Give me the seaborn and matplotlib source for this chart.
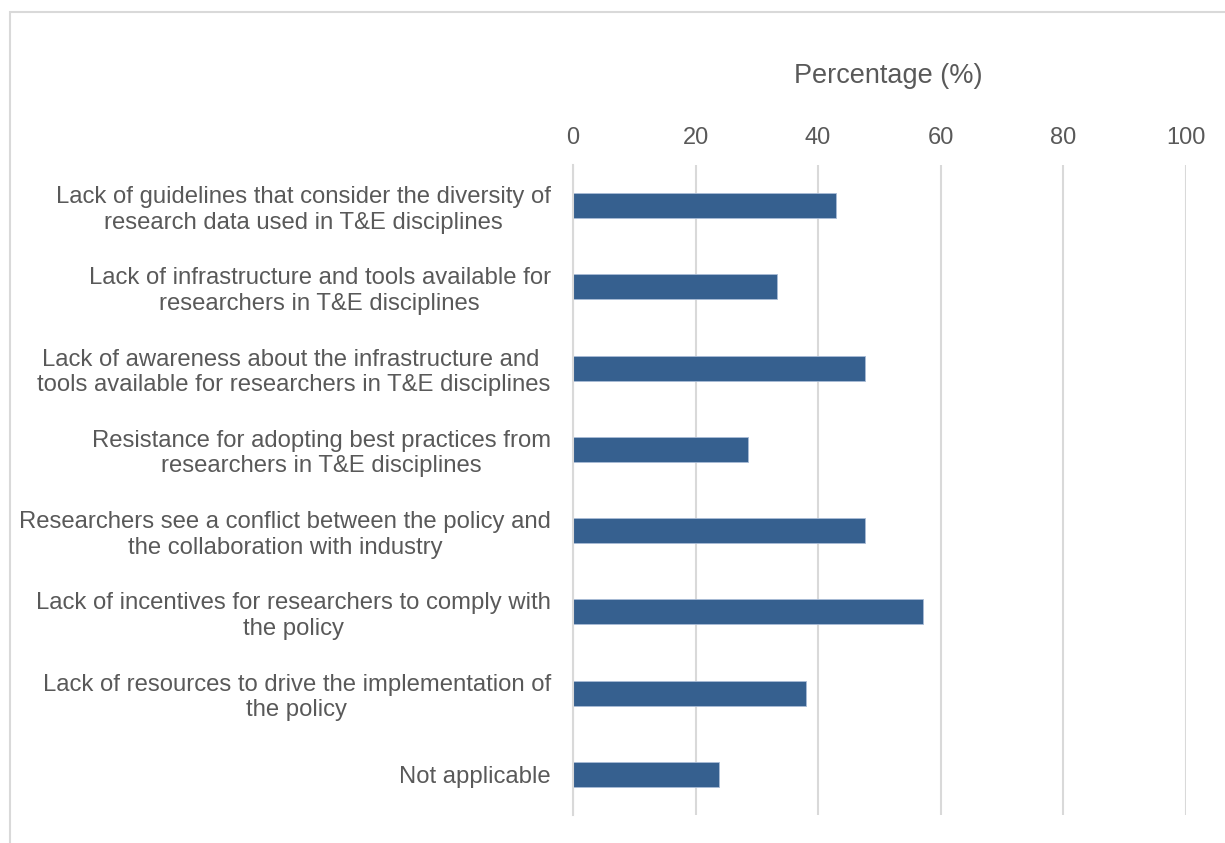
import matplotlib.pyplot as plt
import seaborn as sns
import pandas as pd
from matplotlib.patches import Rectangle

sns.set_theme(style="white")
plt.rcParams['font.family'] = ['Liberation Sans', 'DejaVu Sans']

# survey answers (share of 21 respondents)
barriers = [
    "Lack of guidelines that consider the diversity of\nresearch data used in T&E disciplines",
    "Lack of infrastructure and tools available for\nresearchers in T&E disciplines",
    "Lack of awareness about the infrastructure and \ntools available for researchers in T&E disciplines",
    "Resistance for adopting best practices from\nresearchers in T&E disciplines",
    "Researchers see a conflict between the policy and\nthe collaboration with industry",
    "Lack of incentives for researchers to comply with\nthe policy",
    "Lack of resources to drive the implementation of\nthe policy",
    "Not applicable",
]
percentages = [42.86, 33.33, 47.62, 28.57, 47.62, 57.14, 38.10, 23.81]
x_ticks = [0, 20, 40, 60, 80, 100]

df = pd.DataFrame({'barrier': barriers, 'pct': percentages})

text_col = '#595959'
grid_col = '#D9D9D9'

fig = plt.figure(figsize=(12.25, 8.43), dpi=100)
ax = fig.add_axes([573 / 1225, 28 / 843, 612.5 / 1225, 650 / 843])

sns.barplot(data=df, x='pct', y='barrier', orient='h', color='#36608F',
            width=0.31, saturation=1, edgecolor='#A9BCD6', linewidth=0.6, ax=ax)

ax.set_xlim(0, 100)
ax.set_ylim(7.5, -0.5)
ax.set_xticks(x_ticks)
ax.xaxis.tick_top()
ax.xaxis.set_label_position('top')
ax.set_xlabel('Percentage (%)', fontsize=19.5, color=text_col, labelpad=32)
ax.xaxis.label.set_x(0.514)
ax.set_ylabel('')
ax.tick_params(axis='x', length=0, pad=11.5, labelsize=17, labelcolor=text_col)
ax.tick_params(axis='y', length=0, pad=16, labelsize=17.2, labelcolor=text_col)
for lbl in ax.get_yticklabels():
    lbl.set_multialignment('center')

ax.grid(axis='x', color=grid_col, linewidth=1.5)
ax.set_axisbelow(True)
for side in ['top', 'right', 'bottom']:
    ax.spines[side].set_visible(False)
ax.spines['left'].set_color(grid_col)
ax.spines['left'].set_linewidth(1.5)

# chart area border, cut off at right and bottom like the original
fig.patches.append(Rectangle((10 / 1225, -0.1), 1.2, 0.1 + (843 - 12) / 843,
                             transform=fig.transFigure, fill=False,
                             edgecolor=grid_col, linewidth=1.5))

plt.savefig('out.png', dpi=100)
plt.close(fig)
